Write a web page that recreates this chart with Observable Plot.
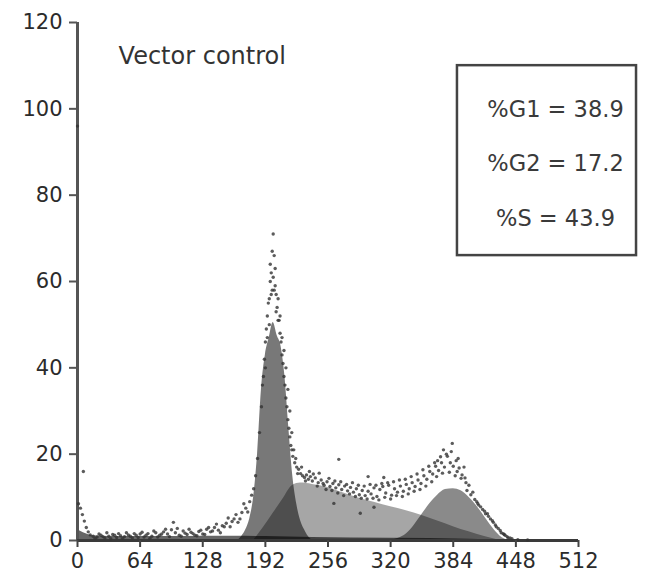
<!DOCTYPE html>
<html>
<head>
<meta charset="utf-8">
<script src="https://cdn.jsdelivr.net/npm/d3@7"></script>
<script src="https://cdn.jsdelivr.net/npm/@observablehq/plot@0.6"></script>
<style>
  html, body { margin: 0; padding: 0; background: #fff; }
  #chart svg { display: block; }
</style>
</head>
<body>
<div id="chart"></div>
<script>
// ---- tick labels ----
const xTicks = [0, 64, 128, 192, 256, 320, 384, 448, 512];
const yTicks = [0, 20, 40, 60, 80, 100, 120];

// ---- annotation text ----
const title = "Vector control";
const phases = ["G1", "G2", "S"];
const phasePercent = [38.9, 17.2, 43.9];

// ---- fitted components (channel, count) ----
const g1Channel = [164, 168, 172, 176, 180, 184, 188, 192, 196, 200, 204, 208, 212, 216, 220, 224, 228, 232, 236, 240];
const g1Count   = [0, 1, 2.5, 5, 10, 20, 35, 43, 47, 50.5, 47.5, 45, 38, 26, 15, 8.5, 4.6, 2.5, 0.9, 0];

const sChannel = [180, 190, 200, 210, 220, 228, 240, 256, 272, 288, 304, 320, 336, 352, 368, 384, 400, 416, 432];
const sCount   = [0, 3, 6.3, 9.6, 12.8, 13.3, 13, 12.3, 11, 9.8, 8.8, 7.8, 6.9, 5.8, 4.5, 3.2, 2, 0.9, 0];

const g2Channel = [320, 328, 336, 344, 352, 360, 368, 376, 384, 392, 400, 408, 416, 424, 432, 440];
const g2Count   = [0, 0.5, 1.5, 3.5, 6, 8.5, 10.5, 11.8, 12, 11.5, 10, 8, 5.5, 3, 1, 0];

const debrisChannel = [0, 4, 8, 12, 16, 24, 40, 64, 96, 128, 160, 192, 240, 320, 400, 440];
const debrisCount   = [2.5, 2, 1.6, 1.3, 1.1, 1, 0.9, 0.9, 0.9, 1, 1, 0.9, 0.7, 0.5, 0.3, 0];

// ---- raw histogram points (channel, count) ----
const pointChannel = [
  0, 1, 3, 5, 6, 7, 9, 11, 13, 16,
  20, 24, 28, 32, 36, 40, 44, 48, 52, 56, 60, 64, 68, 72, 76, 80, 84, 88, 92, 96, 98, 100,
  104, 108, 112, 116, 120, 124, 128, 132, 136, 140, 144, 148, 152, 156, 160, 164, 168, 172, 176,
  180, 182, 184, 186, 188, 190, 191, 192, 193, 194, 195, 196, 197, 198, 199, 200, 200, 201, 202,
  203, 204, 205, 206, 207, 208, 209, 210, 211, 212, 213, 214, 215, 216, 217, 218, 219, 220, 222,
  224, 226, 228, 230, 232, 234, 236, 238, 240, 243, 246, 249, 252, 255, 258, 261, 262, 264, 267,
  267, 270, 273, 276, 279, 282, 285, 288, 289, 291, 294, 297, 297, 300, 303, 303, 306, 309, 312,
  313, 315, 318, 321, 324, 327, 330, 333, 336, 339, 342, 345, 348, 351, 354, 357, 360, 363, 366,
  368, 369, 372, 374, 375, 378, 381, 383, 384, 387, 388, 390, 393, 396, 398, 402, 406, 409, 412,
  416, 419, 422, 425, 428, 432, 435, 437, 440, 444, 450, 460,
  18, 22, 26, 30, 34, 38, 42, 46, 50, 54, 58, 62, 66, 70, 74, 78, 82, 86, 90, 94,
  102, 106, 110, 114, 118, 122, 126, 130, 134, 138, 142, 146, 150, 154, 158, 162, 166, 170, 174, 178,
  189, 192, 194, 196, 197, 198, 199, 201, 202, 203, 205, 207, 209, 211, 213, 215, 217, 219, 221, 223,
  225, 229, 233, 237, 241, 245, 247, 251, 254, 257, 260, 263, 266, 269, 272, 275, 278, 281, 284, 287,
  290, 293, 296, 299, 302, 305, 308, 311, 314, 317, 320, 323, 326, 329, 332, 335, 338, 341, 344, 347,
  350, 353, 356, 359, 362, 365, 367, 371, 373, 377, 380, 382, 386, 389, 392, 395, 397, 400, 404, 408,
  410, 414, 417, 420, 424, 427, 430, 433, 436, 439, 442
];
const pointCount = [
  96, 8.5, 7.5, 6, 16, 4.5, 3, 2, 1.3, 1,
  0.8, 1.2, 0.6, 1, 1.4, 0.7, 1.1, 0.9, 1.3, 0.6, 1.2, 1.5, 0.8, 1.6, 1, 1.8, 1.2, 2, 1.5, 2.5, 4.2, 1.8,
  1.2, 2.2, 1.4, 1.9, 1.2, 2.1, 1.5, 2.6, 2, 3, 2.4, 3.4, 4, 3.2, 5, 4.2, 6.5, 7.5, 9,
  12, 15, 19, 25, 31, 38, 42, 46, 49, 52, 55, 56, 60, 62, 67, 71, 61, 58, 63,
  57, 54, 56, 51, 48, 46, 43, 41, 38, 36, 33, 31, 28, 26, 24, 22, 21, 19.5, 18,
  17, 16.5, 15.5, 15, 14.6, 15.2, 14.2, 14.8, 13.8, 14.5, 13.4, 14, 12.8, 13.6, 12.5, 13.2, 8.6, 12.2, 18.8,
  12.9, 11.8, 12.6, 11.5, 12.3, 11.2, 12, 10.6, 6.3, 11.6, 10.4, 14.8, 11.4, 10.8, 12.2, 7.7, 10.2, 11.8, 12.5,
  14.6, 11, 12.8, 10.5, 12, 11.2, 12.6, 11.4, 13, 12, 13.4, 12.5, 14, 13.2, 15, 14.2, 16, 15.4, 17.2,
  18.5, 16.2, 18, 21, 17, 19.5, 18, 22.5, 17.2, 18.5, 16, 16.8, 15.2, 14.5, 11.6, 10.6, 9.5, 8.6, 7.8,
  6.8, 6.2, 5, 4.2, 3.2, 2.3, 1.6, 1.2, 0.6, 0.4, 0.2, 0.1,
  0.5, 1.5, 0.9, 1.8, 0.4, 1.2, 1.6, 0.5, 1.8, 1, 1.6, 0.7, 1.9, 1.2, 0.5, 2.2, 0.8, 1.5, 2.6, 0.9,
  2.8, 1, 1.7, 2.6, 1.6, 1.1, 2.4, 1.4, 3, 2.2, 3.8, 1.8, 3.2, 5.2, 4.4, 6, 5, 8.5, 6.6, 10.5,
  36, 40, 47, 50, 64, 57, 58, 66, 59, 53, 51, 52, 47, 44, 40, 35, 30, 25, 21, 19,
  15.5, 17, 13.8, 16, 15.4, 12.6, 15.6, 13.2, 11.8, 14.4, 11.6, 13.8, 11, 13.6, 10.4, 13, 10.8, 13.4, 10.2, 12.8,
  9.8, 12.6, 9.6, 13, 9.8, 12.8, 9.4, 13.2, 10, 13.4, 9.6, 13.6, 10.4, 14, 10.2, 14.2, 10.8, 14.8, 11.4, 15.4,
  11.8, 16.4, 12.6, 17.2, 13.6, 18, 14.8, 19.4, 15.6, 20, 15.8, 20.6, 15, 19, 14.4, 17, 13.4, 12.8, 11.2, 9,
  8.2, 7.2, 6.2, 5.6, 4.6, 3.6, 2.8, 1.8, 1.4, 0.9, 0.6
];

const toRows = (cs, vs) => cs.map((c, i) => ({ch: c, v: vs[i]}));
const g1 = toRows(g1Channel, g1Count);
const sPhase = toRows(sChannel, sCount);
const g2 = toRows(g2Channel, g2Count);
const debris = toRows(debrisChannel, debrisCount);
const points = toRows(pointChannel, pointCount);
const stats = phases.map((p, i) => ({label: `%${p} = ${phasePercent[i].toFixed(1)}`, row: i}));

const font = "DejaVu Sans";

const chart = Plot.plot({
  width: 654,
  height: 577,
  marginLeft: 77,
  marginRight: 76,
  marginTop: 22,
  marginBottom: 37,
  style: {fontFamily: font, background: "#fff", overflow: "visible"},
  x: {domain: [0, 512]},
  y: {domain: [0, 120]},
  marks: [
    Plot.areaY(sPhase, {x: "ch", y1: 0, y2: "v", fill: "#000", fillOpacity: 0.35, curve: "monotone-x"}),
    Plot.areaY(g1, {x: "ch", y1: 0, y2: "v", fill: "#000", fillOpacity: 0.53, curve: "monotone-x"}),
    Plot.areaY(g2, {x: "ch", y1: 0, y2: "v", fill: "#000", fillOpacity: 0.46, curve: "monotone-x"}),
    Plot.areaY(debris, {x: "ch", y1: 0, y2: "v", fill: "#000", fillOpacity: 0.6, curve: "monotone-x"}),
    Plot.ruleX([0], {y1: 0, y2: 120, stroke: "#555", strokeWidth: 3}),
    Plot.ruleY([0], {x1: 0, x2: 512, stroke: "#3a3a3a", strokeWidth: 3}),
    Plot.dot(points, {x: "ch", y: "v", r: 1.7, fill: "#333", fillOpacity: 0.8}),
    Plot.axisY({ticks: yTicks, tickSize: 8, tickPadding: 7, fontSize: 21, stroke: "#555", strokeWidth: 2, fill: "#2b2b2b", label: null}),
    Plot.axisX({ticks: xTicks, tickSize: 7, tickPadding: 6, fontSize: 21, stroke: "#444", strokeWidth: 2, fill: "#2b2b2b", label: null}),
    Plot.text([title], {x: 42, y: 110.5, text: d => d, textAnchor: "start", lineAnchor: "bottom", fontSize: 24, fill: "#333"}),
    Plot.rect([0], {x1: 388.3, x2: 571.3, y1: 66, y2: 110, fill: "#fff", stroke: "#444", strokeWidth: 2.5}),
    Plot.text(stats, {x: 488.5, y: d => 98.2 - d.row * 12.7, text: "label", textAnchor: "middle", lineAnchor: "bottom", fontSize: 22.5, fill: "#3a3a3a"})
  ]
});

document.getElementById("chart").appendChild(chart);
</script>
</body>
</html>
